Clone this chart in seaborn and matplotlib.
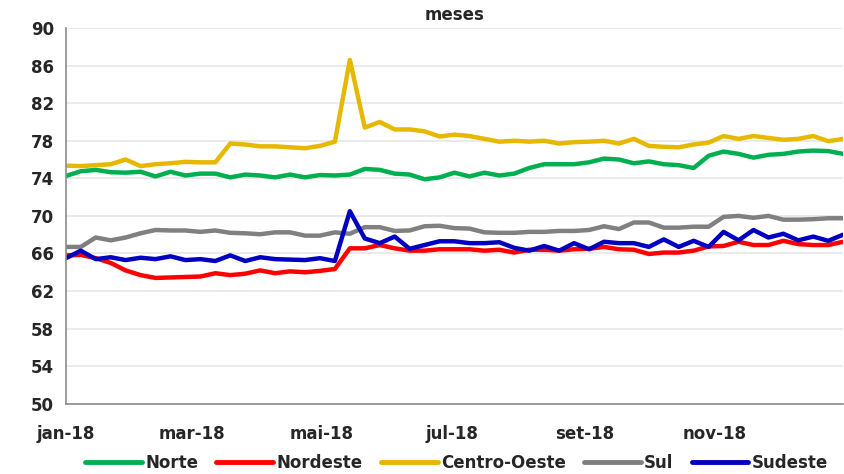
"""
plot.py
-------
Weekly regional index, 2018 (Norte, Nordeste, Centro-Oeste, Sul, Sudeste).
"""

import numpy as np
import pandas as pd
import matplotlib
matplotlib.use("Agg")
import matplotlib.pyplot as plt
import seaborn as sns


# ------------------------------------------------------------------
#  Data (weekly)
# ------------------------------------------------------------------

weeks = pd.date_range("2018-01-01", periods=53, freq="7D")

norte = [74.25, 74.75, 74.9, 74.65, 74.6, 74.7, 74.2, 74.7, 74.3, 74.5,
         74.5, 74.1, 74.4, 74.3, 74.1, 74.4, 74.1, 74.35, 74.3, 74.4,
         75.0, 74.9, 74.5, 74.4, 73.9, 74.1, 74.6, 74.2, 74.6, 74.3,
         74.5, 75.1, 75.5, 75.5, 75.5, 75.7, 76.1, 76.0, 75.6, 75.8,
         75.5, 75.4, 75.1, 76.4, 76.85, 76.6, 76.2, 76.5, 76.6, 76.85,
         76.95, 76.9, 76.6]

nordeste = [65.8, 65.85, 65.5, 65.0, 64.2, 63.7, 63.4, 63.45, 63.5, 63.55,
            63.9, 63.7, 63.85, 64.2, 63.9, 64.1, 64.0, 64.15, 64.35, 66.55,
            66.55, 66.9, 66.55, 66.3, 66.3, 66.45, 66.45, 66.45, 66.3, 66.4,
            66.1, 66.4, 66.4, 66.3, 66.45, 66.5, 66.7, 66.45, 66.4, 65.95,
            66.1, 66.1, 66.3, 66.75, 66.8, 67.25, 66.9, 66.9, 67.35, 67.0,
            66.9, 66.9, 67.25]

centro_oeste = [75.35, 75.3, 75.4, 75.5, 76.0, 75.3, 75.5, 75.6, 75.75, 75.7,
                75.7, 77.7, 77.6, 77.4, 77.4, 77.3, 77.2, 77.45, 77.9, 86.6,
                79.4, 80.0, 79.2, 79.2, 79.0, 78.45, 78.65, 78.5, 78.2, 77.9,
                78.0, 77.9, 78.0, 77.7, 77.85, 77.9, 78.0, 77.7, 78.2, 77.45,
                77.35, 77.3, 77.6, 77.8, 78.5, 78.2, 78.5, 78.3, 78.1, 78.2,
                78.5, 77.95, 78.2]

sul = [66.7, 66.7, 67.7, 67.4, 67.7, 68.15, 68.5, 68.45, 68.45, 68.3,
       68.45, 68.2, 68.15, 68.05, 68.25, 68.25, 67.9, 67.9, 68.25, 68.1,
       68.8, 68.8, 68.4, 68.45, 68.9, 68.95, 68.7, 68.65, 68.25, 68.2,
       68.2, 68.3, 68.3, 68.4, 68.4, 68.5, 68.9, 68.6, 69.3, 69.3,
       68.75, 68.75, 68.85, 68.85, 69.9, 70.0, 69.8, 70.0, 69.6, 69.6,
       69.65, 69.75, 69.75]

sudeste = [65.5, 66.3, 65.4, 65.6, 65.3, 65.55, 65.4, 65.7, 65.3, 65.4,
           65.2, 65.8, 65.2, 65.6, 65.4, 65.35, 65.3, 65.5, 65.2, 70.5,
           67.6, 67.1, 67.8, 66.5, 66.9, 67.3, 67.3, 67.1, 67.1, 67.2,
           66.6, 66.3, 66.8, 66.3, 67.1, 66.45, 67.25, 67.1, 67.1, 66.7,
           67.5, 66.7, 67.35, 66.7, 68.3, 67.4, 68.5, 67.7, 68.1, 67.4,
           67.8, 67.35, 68.0]

regions = ["Norte", "Nordeste", "Centro-Oeste", "Sul", "Sudeste"]
colors = ["#00B050", "#FF0000", "#E6B800", "#808080", "#0000C0"]

month_ticks = pd.to_datetime(["2018-01-01", "2018-03-01", "2018-05-01",
                              "2018-07-01", "2018-09-01", "2018-11-01"])
month_labels = ["jan-18", "mar-18", "mai-18", "jul-18", "set-18", "nov-18"]
y_ticks = np.arange(50, 91, 4)


# ------------------------------------------------------------------
#  Plot
# ------------------------------------------------------------------

df = pd.DataFrame({"semana": weeks, "Norte": norte, "Nordeste": nordeste,
                   "Centro-Oeste": centro_oeste, "Sul": sul,
                   "Sudeste": sudeste})
long_df = df.melt(id_vars="semana", var_name="regiao", value_name="valor")

sns.set_style("white")
plt.rcParams["font.family"] = ["DejaVu Sans"]
plt.rcParams["font.weight"] = "bold"

fig = plt.figure(figsize=(8.44, 4.74), dpi=100)
ax = fig.add_axes([0.078, 0.148, 0.921, 0.793])

sns.lineplot(data=long_df, x="semana", y="valor", hue="regiao",
             hue_order=regions, palette=colors, linewidth=3.2, ax=ax,
             legend=False)

ax.set_xlim(pd.Timestamp("2018-01-01"), pd.Timestamp("2018-12-31"))
ax.set_ylim(50, 90)
ax.set_yticks(y_ticks)
ax.set_xticks(month_ticks)
ax.set_xticklabels(month_labels)
ax.set_xlabel("")
ax.set_ylabel("")
ax.yaxis.grid(True, color="#e6e6e6", linewidth=1.2)
ax.set_axisbelow(True)

for side in ["top", "right"]:
    ax.spines[side].set_visible(False)
for side in ["left", "bottom"]:
    ax.spines[side].set_color("#8c8c8c")
    ax.spines[side].set_linewidth(1.2)

ax.tick_params(axis="both", direction="out", length=5, width=1.2,
               color="#8c8c8c", labelsize=12)
ax.tick_params(axis="x", pad=10)

ax.set_title("meses", fontsize=12, fontweight="bold", pad=6)

# legend below the axes, one row
handles = [plt.Line2D([], [], color=c, linewidth=3.5) for c in colors]
fig.legend(handles, regions, loc="lower center", ncol=5, frameon=False,
           bbox_to_anchor=(0.541, -0.024), fontsize=12, handlelength=3.4,
           columnspacing=1.1, handletextpad=0.2, borderpad=0.3)

fig.savefig("out.png", dpi=100)
plt.close(fig)
